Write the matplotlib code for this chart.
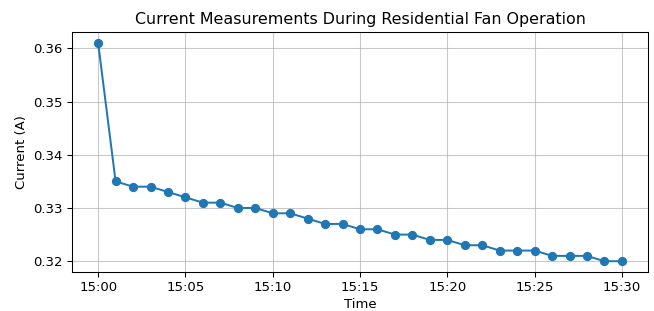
import matplotlib
matplotlib.use('Agg')
import matplotlib.pyplot as plt
import matplotlib.dates as mdates
import pandas as pd

# one reading per minute
times = pd.date_range('2024-01-01 15:00', periods=31, freq='min')
current = [0.361, 0.335, 0.334, 0.334, 0.333, 0.332, 0.331, 0.331, 0.330, 0.330,
           0.329, 0.329, 0.328, 0.327, 0.327, 0.326, 0.326, 0.325, 0.325, 0.324,
           0.324, 0.323, 0.323, 0.322, 0.322, 0.322, 0.321, 0.321, 0.321, 0.320,
           0.320]

dpi = 95
fig, ax = plt.subplots(figsize=(654 / dpi, 311 / dpi), dpi=dpi)
ax.plot(times, current, marker='o', color='#1f77b4')
ax.set_title('Current Measurements During Residential Fan Operation')
ax.set_xlabel('Time', labelpad=3)
ax.set_ylabel('Current (A)')
ax.xaxis.set_major_locator(mdates.MinuteLocator(byminute=range(0, 60, 5)))
ax.xaxis.set_major_formatter(mdates.DateFormatter('%H:%M'))
ax.grid(True, alpha=0.7)

fig.subplots_adjust(left=0.110, right=0.991, top=0.897, bottom=0.125)
plt.savefig('out.png', dpi=dpi)
